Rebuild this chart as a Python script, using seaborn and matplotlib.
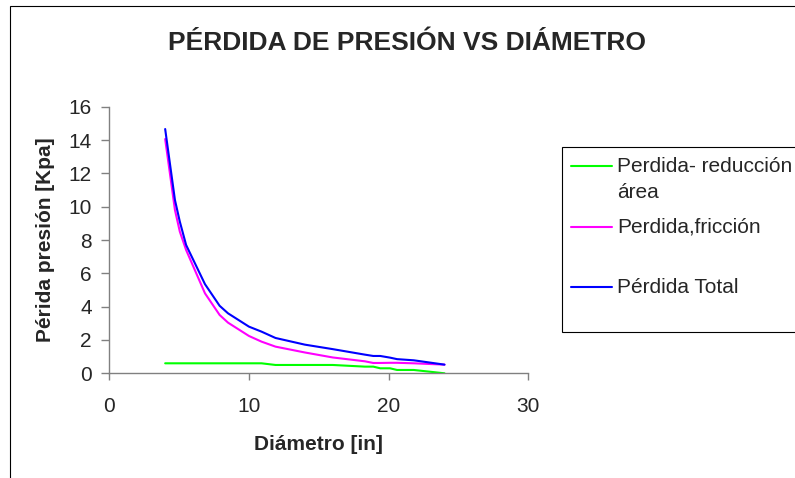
import numpy as np
import seaborn as sns
from matplotlib import pyplot as plt
from matplotlib.patches import Rectangle

diametro = [4.0, 4.7, 5.05, 5.5, 6.85, 7.9, 8.5, 10.0, 10.9, 11.9, 14.0, 16.0, 18.3, 18.9, 19.4, 20.1, 20.6, 21.8, 24.0]
perdida_area = [0.6, 0.6, 0.6, 0.6, 0.6, 0.6, 0.6, 0.6, 0.6, 0.5, 0.5, 0.5, 0.4, 0.4, 0.3, 0.3, 0.2, 0.2, 0.0]
perdida_friccion = [14.06, 9.8, 8.5, 7.4, 4.8, 3.5, 3.04, 2.24, 1.9, 1.6, 1.25, 0.95, 0.72, 0.62, 0.62, 0.63, 0.63, 0.6, 0.52]
perdida_total = [14.66, 10.4, 9.1, 7.7, 5.35, 4.05, 3.6, 2.8, 2.5, 2.12, 1.72, 1.45, 1.12, 1.04, 1.04, 0.94, 0.85, 0.78, 0.52]

sns.set_style("white")
plt.rcParams['font.family'] = ['Liberation Sans', 'DejaVu Sans']

W, H = 795, 478
fig = plt.figure(figsize=(W / 100, H / 100), dpi=100)
ax = fig.add_axes([109.3 / W, 1 - 373.3 / H, 419 / W, 266.6 / H])

sns.lineplot(x=diametro, y=perdida_area, color="#00ff00", lw=1.5, ax=ax,
             label="Perdida- reducción\nárea")
sns.lineplot(x=diametro, y=perdida_friccion, color="#ff00ff", lw=1.5, ax=ax,
             label="Perdida,fricción\n ")
sns.lineplot(x=diametro, y=perdida_total, color="#0000ff", lw=1.5, ax=ax,
             label="Pérdida Total\n ")

ax.set_xlim(0, 30)
ax.set_ylim(0, 16)
ax.set_xticks([0, 10, 20, 30])
ax.set_yticks(range(0, 17, 2))
ax.tick_params(axis="x", bottom=True, length=5, width=1, color="#808080", labelsize=15, pad=12)
ax.tick_params(axis="y", left=True, length=5.5, width=1, color="#808080", labelsize=15, pad=7)
for s in ["top", "right"]:
    ax.spines[s].set_visible(False)
for s in ["left", "bottom"]:
    ax.spines[s].set_color("#808080")
    ax.spines[s].set_linewidth(1)

ax.set_xlabel("Diámetro [in]", fontsize=15, fontweight="bold")
ax.xaxis.set_label_coords(0.5, -(450 - 373.3) / 266.6)
ax.xaxis.label.set_va("baseline")
ax.set_ylabel("Périda presión [Kpa]", fontsize=15, fontweight="bold")
ax.yaxis.set_label_coords((45.8 - 109.3) / 419, 0.5)
ax.yaxis.label.set_va("center")

fig.text(407 / W, 1 - 50 / H, "PÉRDIDA DE PRESIÓN VS DIÁMETRO", ha="center", va="baseline",
         fontsize=19, fontweight="bold")

leg = ax.legend(loc="upper left", bbox_to_anchor=(561.7 / W, 1 - 147.3 / H),
                bbox_transform=fig.transFigure, borderaxespad=0, borderpad=0.45,
                handlelength=1.95, handletextpad=0.25, labelspacing=0.76, fontsize=15,
                frameon=True, fancybox=False, edgecolor="black", framealpha=1)
leg.get_frame().set_linewidth(0.8)
for t in leg.get_texts():
    t.set_linespacing(1.46)
for h in leg.legend_handles:
    h.set_ydata(np.asarray(h.get_ydata()) + 9.6)

fig.add_artist(Rectangle((9.5 / W, -0.1), 2, 1 - 5.5 / H + 0.1, transform=fig.transFigure,
                         fill=False, ec="black", lw=0.8))

fig.savefig("out.png", dpi=100)
